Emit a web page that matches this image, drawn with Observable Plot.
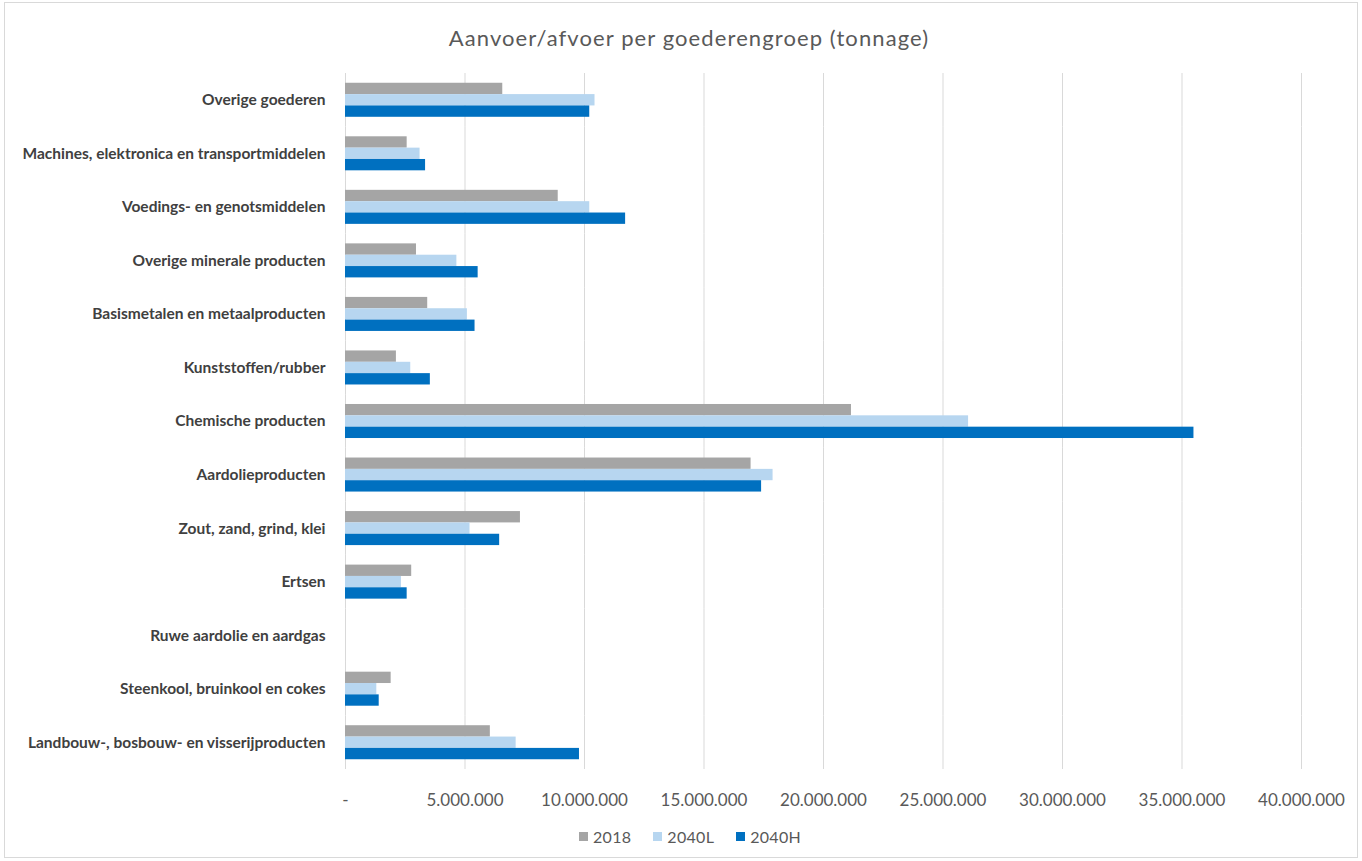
<!DOCTYPE html>
<html><head><meta charset="utf-8">
<script src="https://cdn.jsdelivr.net/npm/d3@7"></script>
<script src="https://cdn.jsdelivr.net/npm/@observablehq/plot@0.6"></script>
<style>
body{margin:0;background:#fff;font-family:Lato,"Open Sans",sans-serif;}
#frame{position:absolute;left:4px;top:2px;width:1354px;height:856px;border:1px solid #d9d9d9;box-sizing:border-box;pointer-events:none}
#title{height:60px;box-sizing:border-box;padding-top:24px;padding-left:16px;line-height:28px;text-align:center;font-size:22px;color:#595959;letter-spacing:1.1px}
#plot{height:760px}
#legend{display:flex;justify-content:center;gap:22px;font-size:16px;color:#595959;margin-top:7px;padding-left:18px;letter-spacing:0.3px}
#legend span.sw{display:inline-block;width:9px;height:9px;margin-right:5px}
#legend div{display:flex;align-items:center}
</style></head><body>
<div id="frame"></div>
<div id="title">Aanvoer/afvoer per goederengroep (tonnage)</div>
<div id="plot"></div>
<div id="legend"></div>
<script>
const categories = [
  "Overige goederen",
  "Machines, elektronica en transportmiddelen",
  "Voedings- en genotsmiddelen",
  "Overige minerale producten",
  "Basismetalen en metaalproducten",
  "Kunststoffen/rubber",
  "Chemische producten",
  "Aardolieproducten",
  "Zout, zand, grind, klei",
  "Ertsen",
  "Ruwe aardolie en aardgas",
  "Steenkool, bruinkool en cokes",
  "Landbouw-, bosbouw- en visserijproducten"
];
const series = ["2018", "2040L", "2040H"];
const v2018  = [6580000, 2580000, 8900000, 2970000, 3440000, 2130000, 21170000, 16970000, 7320000, 2770000, 0, 1910000, 6060000];
const v2040L = [10440000, 3120000, 10220000, 4660000, 5100000, 2730000, 26070000, 17890000, 5210000, 2340000, 0, 1310000, 7140000];
const v2040H = [10220000, 3350000, 11720000, 5550000, 5420000, 3550000, 35500000, 17410000, 6450000, 2580000, 0, 1410000, 9790000];
const colors = ["#a5a5a5", "#b7d6f0", "#0070c0"];
const xTicks = [0, 5000000, 10000000, 15000000, 20000000, 25000000, 30000000, 35000000, 40000000];

const seriesValues = [v2018, v2040L, v2040H];
const data = [];
categories.forEach((c, i) => series.forEach((s, j) => data.push({category: c, series: s, value: seriesValues[j][i]})));

const fmt = d => d === 0 ? "-" : d3.format(",")(d).replace(/,/g, ".");

const chart = Plot.plot({
  width: 1362,
  height: 760,
  marginLeft: 345,
  marginRight: 61,
  marginTop: 13,
  marginBottom: 51,
  style: {fontFamily: "Lato, 'Open Sans', sans-serif", background: "transparent"},
  x: {domain: [0, 40000000], ticks: xTicks, tickFormat: fmt, label: null},
  y: {domain: series, paddingInner: 0, paddingOuter: 0.86, round: false, axis: null},
  fy: {domain: categories, padding: 0, round: false, label: null},
  color: {domain: series, range: colors},
  marks: [
    Plot.ruleX(xTicks, {stroke: "#d9d9d9", strokeWidth: 1}),
    Plot.barX(data, {x: "value", y: "series", fy: "category", fill: "series"}),
    Plot.axisX({ticks: xTicks, tickFormat: fmt, tickSize: 0, tickPadding: 24, fontSize: 17, fill: "#595959", label: null, style: {letterSpacing: "0.5px"}}),
    Plot.axisFy({anchor: "left", tickSize: 0, tickPadding: 20, fontSize: 15.5, fontWeight: "bold", fill: "#404040", label: null, style: {letterSpacing: "0.2px"}})
  ]
});
document.getElementById("plot").appendChild(chart);

const legend = document.getElementById("legend");
series.forEach((s, j) => {
  const d = document.createElement("div");
  d.innerHTML = `<span class="sw" style="background:${colors[j]}"></span>${s}`;
  legend.appendChild(d);
});
</script>
</body></html>
